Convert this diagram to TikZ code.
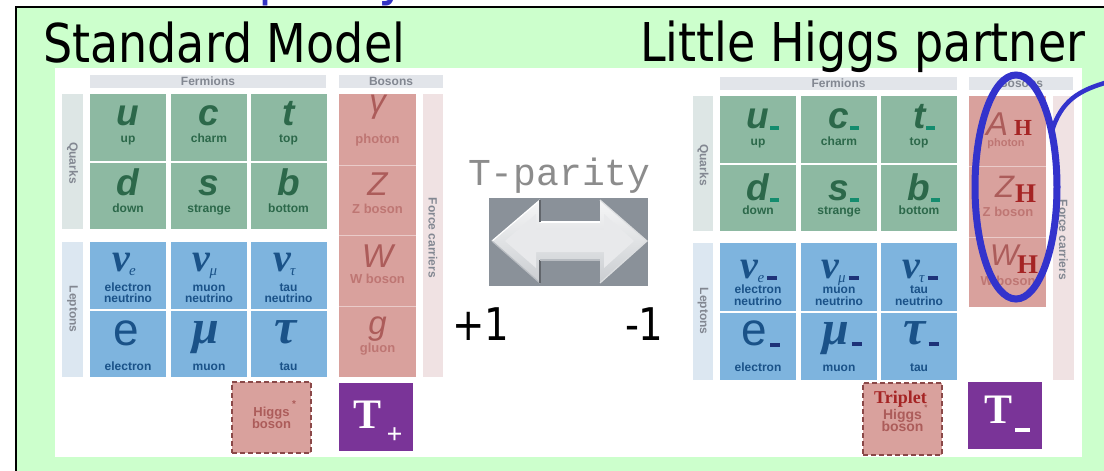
\documentclass[tikz,border=0pt]{standalone}
\usepackage{fontspec}
\setmainfont{Liberation Sans}
\newfontfamily\tah[FakeStretch=0.86]{DejaVu Sans}
\newfontfamily\mono{Liberation Mono}
\newfontfamily\tms{Liberation Serif}
\usetikzlibrary{shapes.geometric}
\newcommand\fs[1]{\fontsize{#1}{#1}\selectfont}
\definecolor{bggreen}{RGB}{204,255,204}
\definecolor{titleblue}{RGB}{52,52,196}
\definecolor{qgreen}{RGB}{141,185,162}
\definecolor{qtext}{RGB}{44,104,74}
\definecolor{lblue}{RGB}{126,180,222}
\definecolor{ltext}{RGB}{26,82,136}
\definecolor{bred}{RGB}{217,161,157}
\definecolor{btext}{RGB}{172,92,90}
\definecolor{blabc}{RGB}{190,118,115}
\definecolor{hred}{RGB}{165,36,36}
\definecolor{hdrgray}{RGB}{226,229,234}
\definecolor{hdrtext}{RGB}{130,135,145}
\definecolor{qbar}{RGB}{221,230,229}
\definecolor{lbar}{RGB}{220,231,241}
\definecolor{fbar}{RGB}{240,226,227}
\definecolor{tpurple}{RGB}{122,52,152}
\definecolor{agray}{RGB}{138,145,153}
\definecolor{tpgray}{RGB}{140,140,140}
\definecolor{ellblue}{RGB}{51,51,204}
\definecolor{qdash}{RGB}{20,140,110}
\definecolor{ldash}{RGB}{30,50,120}
\definecolor{hborder}{RGB}{138,72,72}
\newcommand\qd{\kern0.5pt{\color{qdash}\rule[-2pt]{9pt}{4pt}}}
\newcommand\ld{\kern3pt{\color{ldash}\rule[-2pt]{10pt}{4pt}}}
\newcommand\nusym[1]{{\tms\bfseries\itshape\fs{40}ν\kern-1pt\raisebox{-4pt}{\fs{15}\mdseries #1}}}
\tikzset{
  hdr/.style={fill=hdrgray, minimum height=13, font=\fs{12}\bfseries, text=hdrtext},
  sidebar/.style={minimum width=21},
  sidelab/.style={rotate=-90, font=\fs{12}\bfseries, text=hdrtext},
  qcell/.style={fill=qgreen, minimum width=76, minimum height=67},
  lcell/.style={fill=lblue, minimum width=76, minimum height=67},
  bcell/.style={fill=bred, minimum width=77},
  bsep/.style={draw=bred!55!white, line width=1pt},
  qsym/.style={anchor=base, text=qtext, font=\fs{37}\bfseries\itshape},
  qlab/.style={anchor=base, text=qtext, font=\fs{12}\bfseries},
  lsym/.style={anchor=base, text=ltext},
  llab/.style={anchor=base, text=ltext, font=\fs{12}\bfseries},
  bsym/.style={anchor=base, text=btext, font=\fs{33}\itshape},
  blab/.style={anchor=base, text=blabc, font=\fs{13}\bfseries},
  hsub/.style={anchor=base, text=hred, font=\tms\bfseries\fs{27}},
  higgsbox/.style={fill=bred, draw=hborder, dashed, dash pattern=on 5pt off 3pt, line width=1.5pt, minimum width=79, minimum height=71},
  hlab/.style={anchor=base, text=btext, font=\fs{13}\bfseries},
  tbox/.style={fill=tpurple, minimum width=74, minimum height=68},
  tT/.style={anchor=base, text=white, font=\tms\bfseries\fs{42}},
  big/.style={anchor=base west, font=\tah\fs{53.5}},
}
\begin{document}
\begin{tikzpicture}[x=1pt,y=-1pt, every node/.style={inner sep=0pt,outer sep=0pt}]
\useasboundingbox (0,0) rectangle (1104,471);
\fill[white] (0,0) rectangle (1104,471);
\begin{scope}
  \clip (0,0) rectangle (1104,6.5);
  \node[anchor=base west, font=\tah\fs{60}, text=titleblue] (ttl) at (213,-6) {T-parity};
\end{scope}
\fill[bggreen] (16,7) rectangle (1104,471);
\draw[line width=2pt] (16,471) -- (16,7) -- (1104,7);
\fill[white] (55,68) rectangle (1082,457);

% ---------- LEFT CHART ----------
\node[hdr, minimum width=236] (fermL) at (208,81.5) {Fermions};
\node[hdr, minimum width=104] (bosL) at (391,81.5) {Bosons};
\node[sidebar, fill=qbar, minimum height=135] (qbL) at (72.5,161.5) {};
\node[sidelab] (qlL) at (72.5,163) {Quarks};
\node[sidebar, fill=lbar, minimum height=135] (lbL) at (72.5,309.5) {};
\node[sidelab] (llL) at (72.5,309) {Leptons};
\node[sidebar, fill=fbar, minimum width=20, minimum height=283] (fbL) at (433,235.5) {};
\node[sidelab] (flL) at (433,238) {Force carriers};

\foreach \n/\cx/\s/\l in {uL/128/u/up, cL/209/c/charm, tL/288.5/t/top}{
  \node[qcell] (\n) at (\cx,127.5) {};
  \node[qsym] (\n-s) at (\cx,125) {\s};
  \node[qlab] (\n-l) at (\cx,142) {\l};
}
\foreach \n/\cx/\s/\l in {dL/128/d/down, sL/209/s/strange, bL/288.5/b/bottom}{
  \node[qcell, minimum height=66] (\n) at (\cx,196) {};
  \node[qsym] (\n-s) at (\cx,195) {\s};
  \node[qlab] (\n-l) at (\cx,212) {\l};
}
\foreach \n/\cx/\s/\l in {veL/128/e/electron, vmL/209/μ/muon, vtL/288.5/τ/tau}{
  \node[lcell] (\n) at (\cx,275.5) {};
  \node[lsym] (\n-s) at (\cx-4,271) {\nusym{\s}};
  \node[llab] (\n-a) at (\cx,291) {\l};
  \node[llab] (\n-b) at (\cx,302.5) {neutrino};
}
\node[lcell, minimum height=66] (eL) at (128,344) {};
\node[lsym, font=\fs{46}] (eL-s) at (126,345) {e};
\node[llab] (eL-l) at (128,370) {electron};
\node[lcell, minimum height=66] (mL) at (209,344) {};
\node[lsym, font=\tms\bfseries\itshape\fs{48}] (mL-s) at (206,343) {μ};
\node[llab] (mL-l) at (209,370) {muon};
\node[lcell, minimum height=66] (tauL) at (288.5,344) {};
\node[lsym, font=\tms\bfseries\itshape\fs{50}] (tauL-s) at (286,343) {τ};
\node[llab] (tauL-l) at (288.5,370) {tau};

\node[bcell, minimum height=71] (gamL) at (377.5,129.5) {};
\node[bsym] (gamL-s) at (377.5,112) {γ};
\node[blab] (gamL-l) at (377.5,143) {photon};
\node[bcell, minimum height=70] (zL) at (377.5,200) {};
\node[bsym] (zL-s) at (377.5,195) {Z};
\node[blab] (zL-l) at (377.5,213) {Z boson};
\node[bcell, minimum height=71] (wL) at (377.5,270.5) {};
\node[bsym] (wL-s) at (377.5,267) {W};
\node[blab] (wL-l) at (377.5,283) {W boson};
\node[bcell, minimum height=71] (gL) at (377.5,341.5) {};
\node[bsym] (gL-s) at (377.5,334) {g};
\node[blab] (gL-l) at (377.5,352) {gluon};
\draw[bsep] (gamL.south west) -- (gamL.south east);
\draw[bsep] (zL.south west) -- (zL.south east);
\draw[bsep] (wL.south west) -- (wL.south east);

\node[higgsbox] (hL) at (271.5,417.5) {};
\node[hlab] (hL-a) at (271.5,416) {Higgs};
\node[hlab] (hL-b) at (271.5,428) {boson};
\node[text=btext, font=\fs{10}\bfseries] (hL-st) at (294,404) {*};

\node[tbox] (tpL) at (376,417) {};
\node[tT] (tpL-T) at (367.5,428) {T};
\node[text=white, font=\tms\bfseries\fs{28}] (tpL-p) at (394.5,436) {+};

% ---------- MIDDLE ----------
\node[anchor=base west, font=\mono\fs{38}, text=tpgray] (tpar) at (468,185) {T-parity};
\node[fill=agray, minimum width=159, minimum height=88] (abox) at (568.5,242) {};
\path[top color=white!92!agray, bottom color=white!55!agray]
  (492,241) -- (540,200) -- (540,222) -- (600,222) -- (600,200) -- (647,241)
  -- (600,283) -- (600,260) -- (540,260) -- (540,283) -- cycle;
\path[fill=white!80!agray]
  (505,241) -- (536,214) -- (536,230) -- (604,230) -- (604,214) -- (634,241)
  -- (604,268) -- (604,252) -- (536,252) -- (536,268) -- cycle;
\draw[white, line width=1.2pt] (492,241) -- (540,200);
\draw[white, line width=1.2pt] (540,222) -- (600,222);
\draw[white!40!agray, line width=1.2pt] (492,241) -- (540,283);
\draw[agray!70!black, line width=1.5pt] (540,200) -- (540,222);
\draw[agray!70!black, line width=1.5pt] (540,260) -- (540,283);
\draw[white!40!agray, line width=1.2pt] (540,260) -- (600,260);
\draw[white!70!agray, line width=1.2pt] (600,200) -- (647,241) -- (600,283);
\node[anchor=base west, font=\tah\fs{45}] (plus1) at (452,340) {+1};
\node[anchor=base west, font=\tah\fs{45}] (minus1) at (625,340) {-1};

% ---------- RIGHT CHART ----------
\node[hdr, minimum width=237] (fermR) at (838.5,83.5) {Fermions};
\node[hdr, minimum width=104] (bosR) at (1021,83.5) {Bosons};
\node[sidebar, fill=qbar, minimum width=20, minimum height=135] (qbR) at (703,163.5) {};
\node[sidelab] (qlR) at (703,165) {Quarks};
\node[sidebar, fill=lbar, minimum width=20, minimum height=137] (lbR) at (703,311.5) {};
\node[sidelab] (llR) at (703,311) {Leptons};
\node[sidebar, fill=fbar, minimum height=284] (fbR) at (1063.5,238) {};
\node[sidelab] (flR) at (1063.5,240) {Force carriers};

\foreach \n/\cx/\s/\l in {uR/758/u/up, cR/839/c/charm, tR/919/t/top}{
  \node[qcell] (\n) at (\cx,129.5) {};
  \node[qsym] (\n-s) at (\cx+5,128) {\s\qd};
  \node[qlab] (\n-l) at (\cx,145) {\l};
}
\foreach \n/\cx/\s/\l in {dR/758/d/down, sR/839/s/strange, bR/919/b/bottom}{
  \node[qcell, minimum height=66] (\n) at (\cx,198) {};
  \node[qsym] (\n-s) at (\cx+5,200) {\s\qd};
  \node[qlab] (\n-l) at (\cx,214) {\l};
}
\foreach \n/\cx/\s/\l in {veR/758/e/electron, vmR/839/μ/muon, vtR/919/τ/tau}{
  \node[lcell, minimum height=68] (\n) at (\cx,277) {};
  \node[lsym] (\n-s) at (\cx+1,278) {\nusym{\s}\ld};
  \node[llab] (\n-a) at (\cx,293) {\l};
  \node[llab] (\n-b) at (\cx,305) {neutrino};
}
\node[lcell] (eR) at (758,346.5) {};
\node[lsym, font=\fs{46}] (eR-s) at (761,345) {e\ld};
\node[llab] (eR-l) at (758,371) {electron};
\node[lcell] (mR) at (839,346.5) {};
\node[lsym, font=\tms\bfseries\itshape\fs{48}] (mR-s) at (842,344) {μ\ld};
\node[llab] (mR-l) at (839,371) {muon};
\node[lcell] (tauR) at (919,346.5) {};
\node[lsym, font=\tms\bfseries\itshape\fs{50}] (tauR-s) at (921,344) {τ\ld};
\node[llab] (tauR-l) at (919,371) {tau};

\node[bcell, minimum height=70] (aR) at (1007.5,131) {};
\node[anchor=base west, text=btext, font=\fs{33}\itshape] (aR-s) at (986,135) {A};
\node[anchor=base west, text=hred, font=\tms\bfseries\fs{23}] (aR-h) at (1014,135) {H};
\node[blab, font=\fs{11}\bfseries] (aR-l) at (1006,146) {photon};
\node[bcell, minimum height=71] (zR) at (1007.5,201.5) {};
\node[anchor=base west, text=btext, font=\fs{31}\itshape] (zR-s) at (995,197) {Z};
\node[hsub, anchor=base west] (zR-h) at (1015,202) {H};
\node[blab] (zR-l) at (1008,216) {Z boson};
\node[bcell, minimum height=70] (wR) at (1007.5,272) {};
\node[anchor=base west, text=btext, font=\fs{30}\itshape] (wR-s) at (990,265) {W};
\node[hsub, anchor=base west] (wR-h) at (1017,273) {H};
\node[blab] (wR-l) at (1008,285) {W boson};
\draw[bsep] (aR.south west) -- (aR.south east);
\draw[bsep] (zR.south west) -- (zR.south east);

\node[higgsbox, minimum height=72] (hR) at (902.5,419) {};
\node[anchor=base, text=hred, font=\tms\bfseries\fs{18}] (hR-t) at (900.5,403) {Triplet};
\node[text=btext, font=\fs{8}\bfseries] (hR-st) at (926,408) {*};
\node[hlab, font=\fs{14}\bfseries] (hR-a) at (902.5,419) {Higgs};
\node[hlab, font=\fs{14}\bfseries] (hR-b) at (902.5,431) {boson};

\node[tbox, minimum height=67] (tmR) at (1005,415.5) {};
\node[tT] (tmR-T) at (998.5,423) {T};
\node[text=white] (tmR-d) at (1022.5,430) {\rule{15pt}{3.5pt}};

% ellipse and pointer
\node[draw=ellblue, ellipse, line width=7pt, minimum width=82, minimum height=224] (ell) at (1016,187) {};
\coordinate (cend) at (1108,82);
\draw[ellblue, line width=4.5pt] (ell.57) .. controls (1061,100) and (1080,90) .. (cend);

% ---------- TITLES ----------
\node[big] (smt) at (43,62) {Standard Model};
\node[big] (lht) at (640,61) {Little Higgs partner};
\end{tikzpicture}
\end{document}
